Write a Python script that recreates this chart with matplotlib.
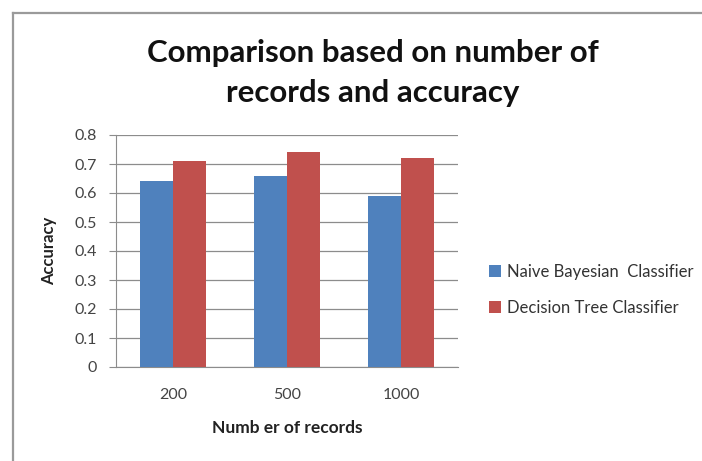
import matplotlib
matplotlib.use("Agg")
import matplotlib.pyplot as plt
import numpy as np
from matplotlib.lines import Line2D

categories = ["200", "500", "1000"]
naive_bayes = [0.64, 0.66, 0.59]
decision_tree = [0.71, 0.74, 0.72]
series_names = ["Naive Bayesian  Classifier", "Decision Tree Classifier"]
yticks = [0, 0.1, 0.2, 0.3, 0.4, 0.5, 0.6, 0.7, 0.8]
ytick_labels = ["0", "0.1", "0.2", "0.3", "0.4", "0.5", "0.6", "0.7", "0.8"]

plt.rcParams['font.family'] = ['Lato', 'DejaVu Sans']

fig = plt.figure(figsize=(7.02, 4.61), dpi=100)
fig.patch.set_facecolor("white")

# chart-area frame (top and left edges only visible)
fx, fy = 12.5/702, 1 - 13/461
fig.lines.append(Line2D([fx, 1.0], [fy, fy], transform=fig.transFigure,
                        color="#9a9a9a", linewidth=1.6))
fig.lines.append(Line2D([fx, fx], [0.0, fy], transform=fig.transFigure,
                        color="#9a9a9a", linewidth=1.6))

ax = fig.add_axes([116/702, 1 - 367/461, 342/702, 232/461])
x = np.arange(len(categories))
w = 0.29
ax.bar(x - w/2, naive_bayes, w, color="#4F81BD", label=series_names[0], zorder=3)
ax.bar(x + w/2, decision_tree, w, color="#C0504D", label=series_names[1], zorder=3)

ax.set_xlim(-0.5, len(categories) - 0.5)
ax.set_ylim(0, 0.8)
ax.set_yticks(yticks)
ax.set_yticklabels(ytick_labels)
ax.set_xticks(x)
ax.set_xticklabels(categories)
ax.yaxis.grid(True, color="#8c8c8c", linewidth=0.9, zorder=0)
for s in ["top", "right"]:
    ax.spines[s].set_visible(False)
ax.spines["left"].set_color("#8c8c8c")
ax.spines["bottom"].set_color("#8c8c8c")
ax.tick_params(axis="y", length=5, color="#8c8c8c", labelsize=11.5, labelcolor="#444444", pad=9)
ax.tick_params(axis="x", length=0, labelsize=11.5, labelcolor="#444444", pad=15)

ax.set_ylabel("Accuracy", fontsize=12, fontweight="bold", color="#222222", labelpad=12)
ax.set_xlabel("Numb er of records", fontsize=12.5, fontweight="bold", color="#222222", labelpad=13)

fig.text(373/702, 1 - 73/461, "Comparison based on number of\nrecords and accuracy",
         ha="center", va="center", fontsize=22.5, fontweight="bold", color="#111111",
         linespacing=1.5)

fig.legend(loc="center left", bbox_to_anchor=(474/702, 1 - 290/461), frameon=False,
           fontsize=12, handlelength=0.7, handleheight=0.7, handletextpad=0.4,
           labelspacing=1.2, labelcolor="#333333")

fig.savefig("out.png", dpi=100, facecolor="white")
